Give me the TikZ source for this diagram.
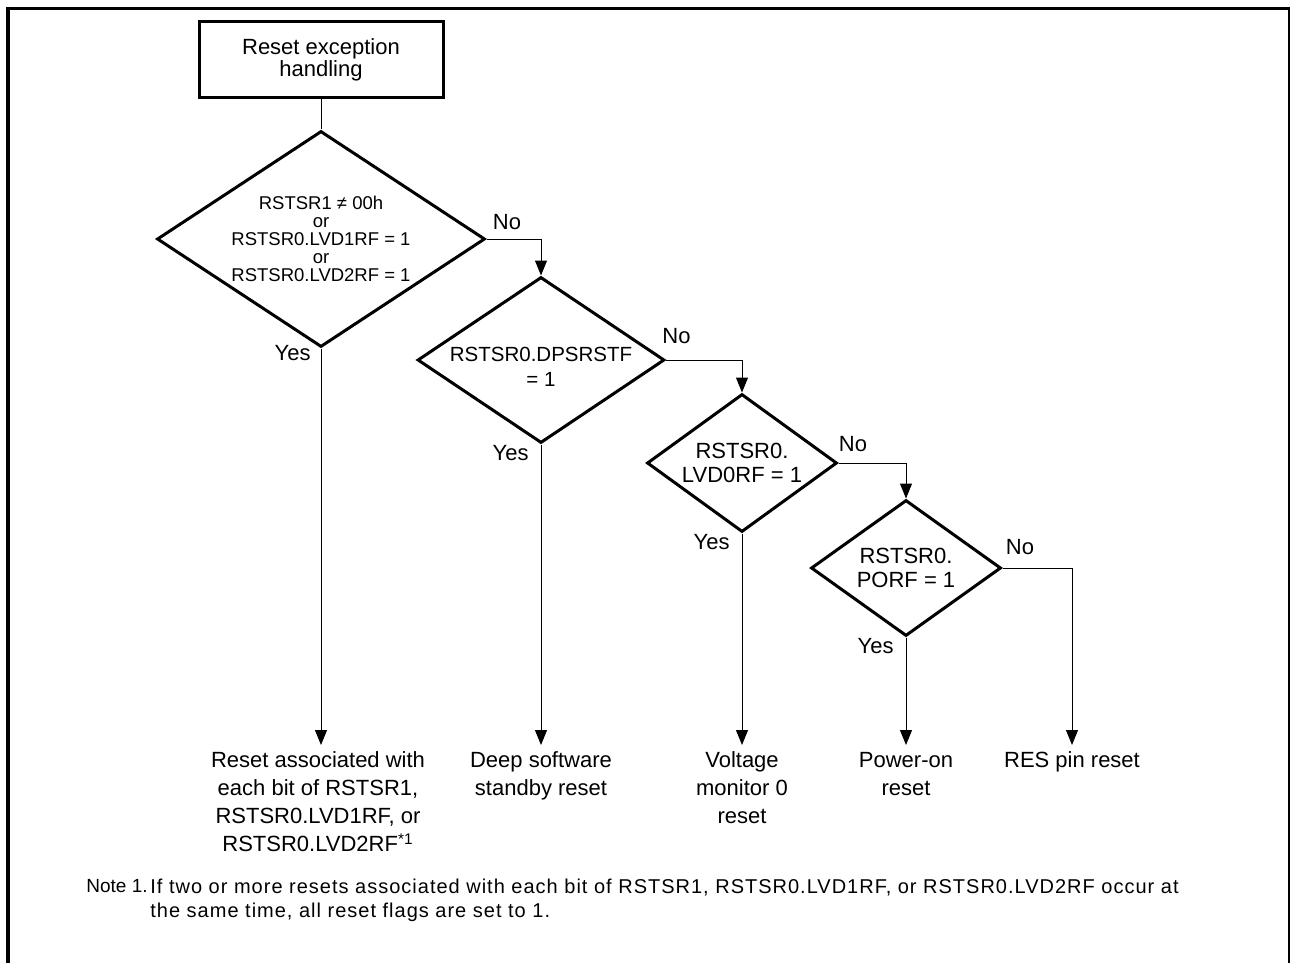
\documentclass[tikz,border=0pt]{standalone}
\usepackage{fontspec}
\setmainfont{Liberation Sans}
\newfontfamily\notefont[LetterSpace=5]{Liberation Sans}
\usetikzlibrary{arrows.meta,shapes.geometric}

\begin{document}
\begin{tikzpicture}[x=0.5pt, y=-0.5pt, font=\fontsize{11}{14}\selectfont,
  st/.style={draw, line width=1.5pt, align=center, inner sep=0pt,
             minimum width=122pt, minimum height=38pt,
             font=\fontsize{11}{11}\selectfont},
  dc/.style={draw, diamond, line width=1.5pt, align=center, inner sep=0pt,
             font=\fontsize{11}{12}\selectfont},
  dt/.style={align=center, inner sep=0pt, font=\fontsize{10.25}{12.5}\selectfont},
  rs/.style={align=center, anchor=north, inner sep=0pt, outer sep=3.5pt,
             font=\fontsize{11}{14}\selectfont},
  arr/.style={-{Triangle[length=7.5pt, width=6pt]}, line width=0.5pt},
  ln/.style={line width=0.5pt},
  lab/.style={inner sep=0pt, font=\fontsize{11}{12}\selectfont},
  nt/.style={inner sep=0pt, anchor=north west, align=left,
             font=\notefont\fontsize{10}{12}\selectfont}]

\useasboundingbox (0,0) rectangle (1290,963);

% frame
\draw[line width=1.75pt] (8,963) -- (8,8.5) -- (1290,8.5);
\draw[line width=0.6pt] (1289,8.5) -- (1289,963);

% start and decisions
\node[st] (s) at (321,60) {Reset exception\\handling};
\node[dc, aspect=1.52, minimum width=164pt, minimum height=108pt,
      font=\fontsize{9.25}{9}\selectfont] (d1) at (321,239)
  {RSTSR1 ≠ 00h\\or\\RSTSR0.LVD1RF = 1\\or\\RSTSR0.LVD2RF = 1};
\node[dc, aspect=1.49, minimum width=123.5pt, minimum height=83pt] (d2) at (541,360) {};
\node[dt] (t2) at ([yshift=-3.5pt]d2.center) {RSTSR0.DPSRSTF\\= 1};
\node[dc, aspect=1.38, minimum width=95pt, minimum height=69pt] (d3) at (742,463)
  {RSTSR0.\\LVD0RF = 1};
\node[dc, aspect=1.4, minimum width=95pt, minimum height=68pt] (d4) at (906,568)
  {RSTSR0.\\PORF = 1};

% results
\node[rs] (o1) at (318,745)
  {Reset associated with\\each bit of RSTSR1,\\RSTSR0.LVD1RF, or\\RSTSR0.LVD2RF\textsuperscript{*1}};
\node[rs] (o2) at (541,745) {Deep software\\standby reset};
\node[rs] (o3) at (742,745) {Voltage\\monitor 0\\reset};
\node[rs] (o4) at (906,745) {Power-on\\reset};
\node[rs] (o5) at (1072,745) {RES pin reset};

% connectors
\draw[ln] (s) -- (d1);
\draw[arr] (d1.east) -| (d2.north);
\draw[arr] (d2.east) -| (d3.north);
\draw[arr] (d3.east) -| (d4.north);
\draw[arr] (d4.east) -| (o5.north);
\draw[arr] (d1.south) -- (d1.south |- o1.north);
\draw[arr] (d2.south) -- (o2.north);
\draw[arr] (d3.south) -- (o3.north);
\draw[arr] (d4.south) -- (o4.north);

% branch labels
\node[lab, anchor=base west] at ([xshift=3pt, yshift=5pt]d1.east) {No};
\node[lab, anchor=base west] at ([xshift=-2pt, yshift=8.5pt]d2.east) {No};
\node[lab, anchor=base west] at ([yshift=6pt]d3.east) {No};
\node[lab, anchor=base west] at ([xshift=1.5pt, yshift=7pt]d4.east) {No};
\node[lab, anchor=north east] at ([xshift=-5pt, yshift=2pt]d1.south) {Yes};
\node[lab, anchor=north east] at ([xshift=-6pt]d2.south) {Yes};
\node[lab, anchor=north east] at ([xshift=-6pt]d3.south) {Yes};
\node[lab, anchor=north east] at ([xshift=-6pt]d4.south) {Yes};

% note
\node[nt, font=\fontsize{9.5}{12}\selectfont] (n1) at (86,879) {Note 1.};
\node[nt] (n2) at (150,879)
  {If two or more resets associated with each bit of RSTSR1, RSTSR0.LVD1RF, or RSTSR0.LVD2RF occur at\\
   the same time, all reset flags are set to 1.};
\end{tikzpicture}
\end{document}
